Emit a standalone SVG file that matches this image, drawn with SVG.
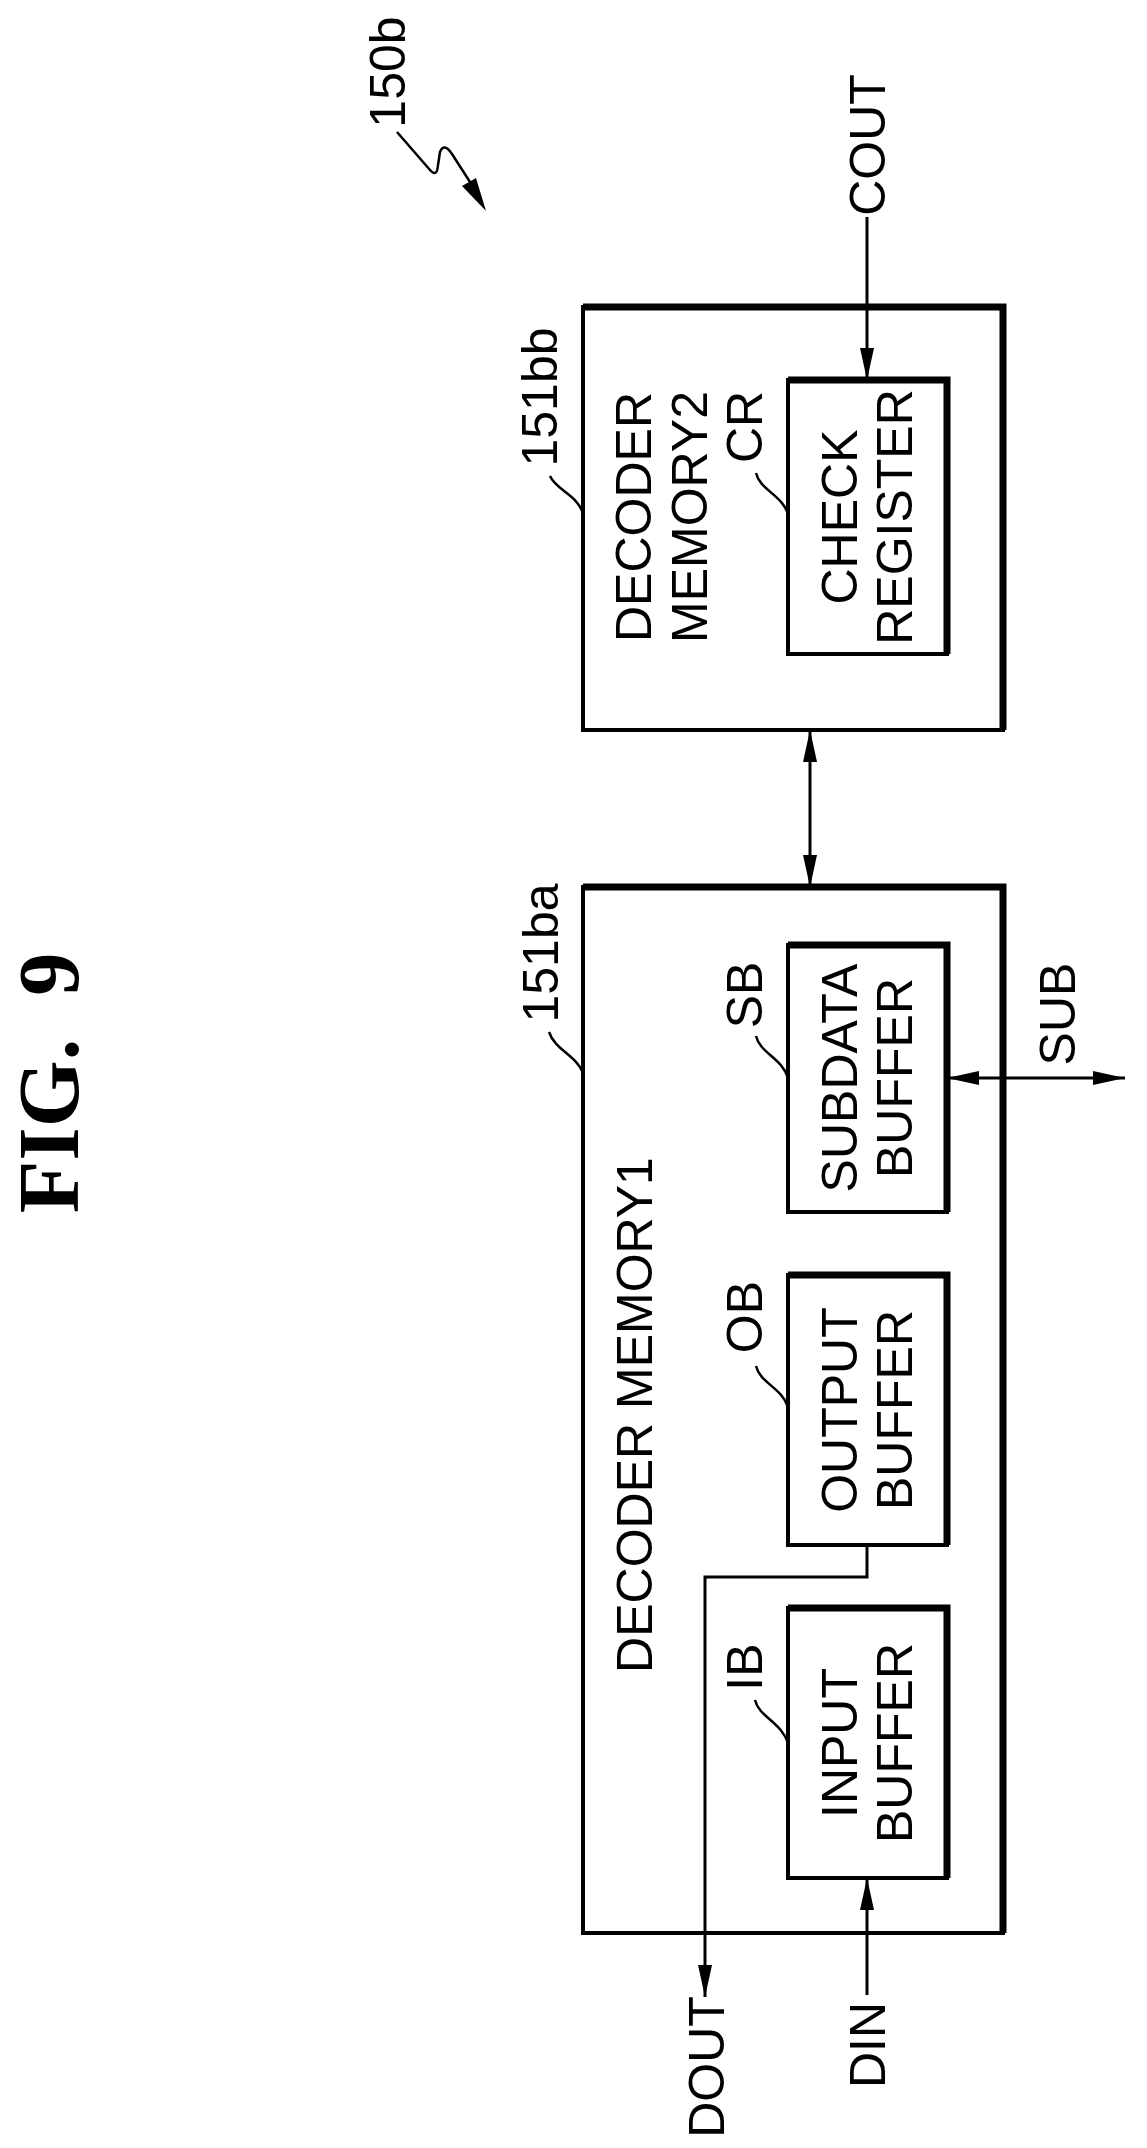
<svg xmlns="http://www.w3.org/2000/svg" width="1147" height="2148" viewBox="0 0 1147 2148">
<defs>
<marker id="ah" markerUnits="userSpaceOnUse" markerWidth="34" markerHeight="14" refX="32" refY="7" orient="auto-start-reverse">
<path d="M0,0 L32,7 L0,14 Z" fill="#000"/>
</marker>
</defs>
<style>
.box{fill:#fff;stroke:#000;stroke-width:4}
.sh{stroke:#000;stroke-width:7;fill:none}
.ln{stroke:#000;stroke-width:3;fill:none}
.ld{stroke:#000;stroke-width:2.5;fill:none}
.t{font-family:"Liberation Sans Narrow","Liberation Sans",Arial,sans-serif;font-size:50px;fill:#000;text-anchor:middle}
.fig{font-family:"Liberation Serif","Times New Roman",serif;font-weight:bold;font-size:86px;fill:#000;text-anchor:middle}
</style>
<rect width="1147" height="2148" fill="#fff"/>
<text class="fig" x="78" y="1083" transform="rotate(-90 78 1083)" xml:space="preserve">FIG.  9</text>
<g id="ref150b">
<text class="t" x="405" y="72" transform="rotate(-90 405 72)">150b</text>
<path class="ld" d="M397,132 L430,170 Q437,178 438,165 L440,152 Q444,142 452,154 L470,182" />
<path d="M462,186 L486,211 L476,178 Z" fill="#000"/>
</g>
<g id="mem2">
<rect class="box" x="583" y="307" width="420" height="423"/>
<path class="sh" d="M583,307 H1003 V730"/>
<text class="t" x="651" y="517" transform="rotate(-90 651 517)">DECODER</text>
<text class="t" x="707" y="517" transform="rotate(-90 707 517)">MEMORY2</text>
<text class="t" x="557" y="397" transform="rotate(-90 557 397)">151bb</text>
<path class="ld" d="M550,476 C556,490 578,495 583,514"/>
</g>
<g id="cr">
<rect class="box" x="788" y="380" width="159" height="274"/>
<path class="sh" d="M788,380 H947 V654"/>
<text class="t" x="857" y="517" transform="rotate(-90 857 517)">CHECK</text>
<text class="t" x="912" y="517" transform="rotate(-90 912 517)">REGISTER</text>
<text class="t" x="762" y="427" transform="rotate(-90 762 427)">CR</text>
<path class="ld" d="M756,473 C760,490 782,495 788,514"/>
</g>
<g id="mem1">
<rect class="box" x="583" y="887" width="420" height="1046"/>
<path class="sh" d="M583,887 H1003 V1933"/>
<text class="t" x="652" y="1415" transform="rotate(-90 652 1415)">DECODER MEMORY1</text>
<text class="t" x="558" y="953" transform="rotate(-90 558 953)">151ba</text>
<path class="ld" d="M549,1032 C555,1050 576,1055 583,1073"/>
</g>
<g id="sb">
<rect class="box" x="788" y="945" width="159" height="267"/>
<path class="sh" d="M788,945 H947 V1212"/>
<text class="t" x="857" y="1078" transform="rotate(-90 857 1078)">SUBDATA</text>
<text class="t" x="912" y="1078" transform="rotate(-90 912 1078)">BUFFER</text>
<text class="t" x="762" y="995" transform="rotate(-90 762 995)">SB</text>
<path class="ld" d="M756,1036 C760,1053 782,1058 788,1078"/>
</g>
<g id="ob">
<rect class="box" x="788" y="1275" width="159" height="270"/>
<path class="sh" d="M788,1275 H947 V1545"/>
<text class="t" x="857" y="1410" transform="rotate(-90 857 1410)">OUTPUT</text>
<text class="t" x="912" y="1410" transform="rotate(-90 912 1410)">BUFFER</text>
<text class="t" x="762" y="1317" transform="rotate(-90 762 1317)">OB</text>
<path class="ld" d="M756,1366 C760,1383 782,1388 788,1407"/>
</g>
<g id="ib">
<rect class="box" x="788" y="1608" width="159" height="270"/>
<path class="sh" d="M788,1608 H947 V1878"/>
<text class="t" x="857" y="1743" transform="rotate(-90 857 1743)">INPUT</text>
<text class="t" x="912" y="1743" transform="rotate(-90 912 1743)">BUFFER</text>
<text class="t" x="762" y="1667" transform="rotate(-90 762 1667)">IB</text>
<path class="ld" d="M755,1700 C759,1717 781,1722 788,1743"/>
</g>
<g id="connectors">
<line class="ln" x1="867" y1="217" x2="867" y2="380" marker-end="url(#ah)"/>
<line class="ln" x1="810" y1="730" x2="810" y2="887" marker-start="url(#ah)" marker-end="url(#ah)"/>
<line class="ln" x1="947" y1="1078" x2="1125" y2="1078" marker-start="url(#ah)" marker-end="url(#ah)"/>
<polyline class="ln" points="867,1545 867,1577 705,1577 705,1997" marker-end="url(#ah)"/>
<line class="ln" x1="867" y1="1995" x2="867" y2="1878" marker-end="url(#ah)"/>
</g>
<g id="io-labels">
<text class="t" x="885" y="145" transform="rotate(-90 885 145)">COUT</text>
<text class="t" x="1075" y="1014" transform="rotate(-90 1075 1014)">SUB</text>
<text class="t" x="724" y="2067" transform="rotate(-90 724 2067)">DOUT</text>
<text class="t" x="885" y="2045" transform="rotate(-90 885 2045)">DIN</text>
</g>
</svg>
